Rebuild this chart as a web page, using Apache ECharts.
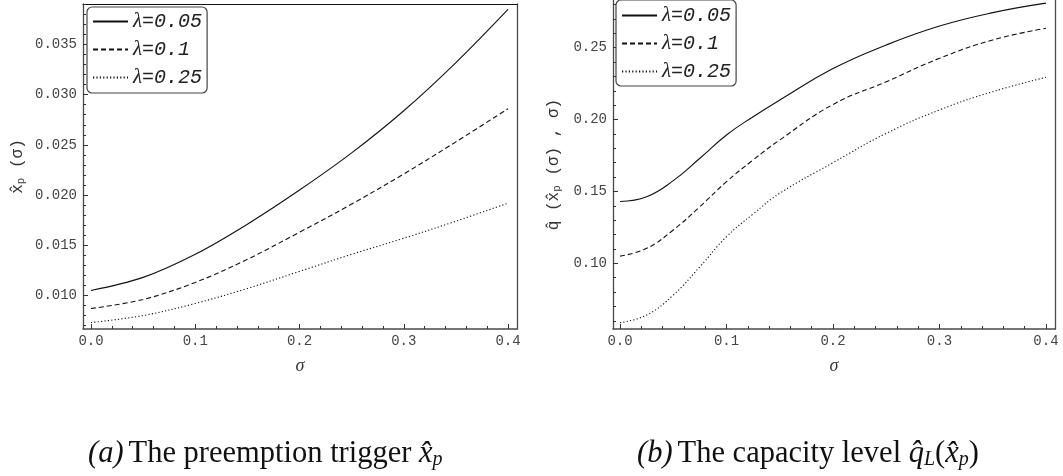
<!DOCTYPE html>
<html><head><meta charset="utf-8">
<script src="https://cdn.jsdelivr.net/npm/echarts@6/dist/echarts.min.js"></script>
<style>html,body{margin:0;padding:0;background:#fff}#c{width:1063px;height:476px}</style>
</head><body><div id="c"></div>
<script>
// ---------- data ----------
const seriesNames = ['λ=0.05', 'λ=0.1', 'λ=0.25'];
const sigmaA = [0, 0.05, 0.1, 0.15, 0.2, 0.25, 0.3, 0.35, 0.4];
const xpLam005 = [0.0105, 0.0118, 0.0141, 0.0171, 0.0205, 0.0242, 0.0284, 0.0332, 0.0385];
const xpLam010 = [0.0087, 0.0096, 0.0113, 0.0136, 0.0163, 0.0191, 0.0221, 0.0253, 0.0286];
const xpLam025 = [0.0073, 0.0080, 0.0092, 0.0107, 0.0124, 0.0141, 0.0157, 0.0174, 0.0192];
const sigmaB = [0, 0.025, 0.05, 0.075, 0.1, 0.125, 0.15, 0.2, 0.25, 0.3, 0.35, 0.4];
const qLam005 = [0.143, 0.1463, 0.1575, 0.1731, 0.1893, 0.2020, 0.2136, 0.2355, 0.2519, 0.2651, 0.2744, 0.2810];
const qLam010 = [0.105, 0.1104, 0.1232, 0.1394, 0.1568, 0.1719, 0.1858, 0.2105, 0.2263, 0.2426, 0.2554, 0.2635];
const qLam025 = [0.0587, 0.0640, 0.0779, 0.0976, 0.1185, 0.1343, 0.1487, 0.1700, 0.1904, 0.2067, 0.2194, 0.2294];
const xTicks = [0, 0.1, 0.2, 0.3, 0.4];
const yTicksA = [0.010, 0.015, 0.020, 0.025, 0.030, 0.035];
const yTicksB = [0.10, 0.15, 0.20, 0.25];
const captionA = 'The preemption trigger ';
const captionB = 'The capacity level ';

// ---------- helpers ----------
function minorVals(lo, hi, step, majorStep) {
  const out = [];
  for (let i = Math.ceil(lo / step - 1e-9); i * step <= hi + 1e-12; i++) {
    const v = +(i * step).toFixed(6);
    if (Math.abs(v / majorStep - Math.round(v / majorStep)) > 1e-6) out.push(v);
  }
  return out;
}
const MONO = '"Liberation Mono", "DejaVu Sans Mono", monospace';
const SERIF = '"Liberation Serif", "DejaVu Serif", serif';
const frameCol = '#4a4a4a';
const lblStyle = { fontFamily: MONO, fontSize: 14, color: '#444' };

function xAxesFor(gi, min, max, showTop) {
  const base = { gridIndex: gi, type: 'value', min, max, splitLine: { show: false } };
  const arr = [
    Object.assign({}, base, {
      position: 'bottom',
      axisLine: { show: true, onZero: false, lineStyle: { color: frameCol, width: 1.6 } },
      axisTick: { show: true, inside: true, length: 5, customValues: xTicks, lineStyle: { color: '#333' } },
      axisLabel: Object.assign({ customValues: xTicks, formatter: v => v.toFixed(1), margin: 5 }, lblStyle),
      name: 'σ', nameLocation: 'middle', nameGap: 28,
      nameTextStyle: { fontFamily: SERIF, fontStyle: 'italic', fontSize: 18, color: '#333' }
    }),
    Object.assign({}, base, {
      position: 'bottom',
      axisLine: { show: false, onZero: false },
      axisTick: { show: true, inside: true, length: 3, customValues: minorVals(0, 0.4, 0.02, 0.1), lineStyle: { color: '#333' } },
      axisLabel: { show: false }
    })
  ];
  if (showTop) arr.push(Object.assign({}, base, {
    position: 'top',
    axisLine: { show: true, onZero: false, lineStyle: { color: '#111', width: 1.2 } },
    axisTick: { show: false }, axisLabel: { show: false }
  }));
  return arr;
}
function yAxesFor(gi, min, max, major, minorStep, majorStep, dec, nameRich, nameGap) {
  const base = { gridIndex: gi, type: 'value', min, max, splitLine: { show: false } };
  return [
    Object.assign({}, base, {
      position: 'left',
      axisLine: { show: true, onZero: false, lineStyle: { color: frameCol, width: 1.3 } },
      axisTick: { show: true, inside: true, length: 5, customValues: major, lineStyle: { color: '#333' } },
      axisLabel: Object.assign({ customValues: major, formatter: v => v.toFixed(dec), margin: 6 }, lblStyle),
      name: nameRich, nameLocation: 'middle', nameRotate: 90, nameGap: nameGap,
      nameTextStyle: {
        fontFamily: MONO, fontSize: 16, color: '#333',
        rich: {
          n: { fontFamily: MONO, fontSize: 16, color: '#333' },
          s: { fontFamily: MONO, fontSize: 11, color: '#333', verticalAlign: 'bottom', padding: [8, 0, 0, 0] }
        }
      }
    }),
    Object.assign({}, base, {
      position: 'left',
      axisLine: { show: false, onZero: false },
      axisTick: { show: true, inside: true, length: 3, customValues: minorVals(min, max, minorStep, majorStep), lineStyle: { color: '#333' } },
      axisLabel: { show: false }
    }),
    Object.assign({}, base, {
      position: 'right',
      axisLine: { show: true, onZero: false, lineStyle: { color: frameCol, width: 1.3 } },
      axisTick: { show: false }, axisLabel: { show: false }
    })
  ];
}
function pairs(xs, ys) { return xs.map((x, i) => [x, ys[i]]); }
const styles = [
  { type: 'solid', width: 1.1 },
  { type: [5, 3], width: 1.1 },
  { type: [1.2, 2.2], width: 1.1 }
];
function mkSeries(name, xi, yi, xs, ys, k, sm) {
  return {
    type: 'line', name, xAxisIndex: xi, yAxisIndex: yi, data: pairs(xs, ys),
    showSymbol: false, symbol: 'none', smooth: sm, animation: false,
    lineStyle: Object.assign({ color: '#111' }, styles[k]), itemStyle: { color: '#111' }
  };
}
function legendFor(left, top, padding) {
  return {
    data: seriesNames.map(n => ({ name: n, itemStyle: { opacity: 0 } })),
    orient: 'vertical', left, top, padding,
    itemWidth: 35, itemHeight: 14, itemGap: 7, selectedMode: false,
    itemStyle: { opacity: 0, borderWidth: 0 },
    borderColor: '#444', borderWidth: 1.2, borderRadius: 5, backgroundColor: '#fff',
    formatter: n => '{l|λ}{m|' + n.slice(1) + '}',
    textStyle: {
      lineHeight: 20,
      rich: {
        l: { fontFamily: SERIF, fontStyle: 'italic', fontSize: 21, color: '#222' },
        m: { fontFamily: MONO, fontStyle: 'italic', fontSize: 20, color: '#222' }
      }
    }
  };
}

// ranges (frame padding as in the original)
const xMin = -0.0077, xMaxA = 0.4086, xMinB = -0.0066, xMaxB = 0.4085;
const yMinA = 0.00666, yMaxA = 0.03903, yMinB = 0.05429, yMaxB = 0.28319;

const xAxis = [...xAxesFor(0, xMin, xMaxA, true), ...xAxesFor(1, xMinB, xMaxB, false)];
const yAxis = [
  ...yAxesFor(0, yMinA, yMaxA, yTicksA, 0.001, 0.005, 3, '{n|x̂}{s|p}{n| (σ)}', 56),
  ...yAxesFor(1, yMinB, yMaxB, yTicksB, 0.01, 0.05, 2, '{n|q̂ (x̂}{s|p}{n| (σ) , σ)}', 50)
];
const series = [
  mkSeries(seriesNames[0], 0, 0, sigmaA, xpLam005, 0, 0.35),
  mkSeries(seriesNames[1], 0, 0, sigmaA, xpLam010, 1, 0.35),
  mkSeries(seriesNames[2], 0, 0, sigmaA, xpLam025, 2, 0.35),
  mkSeries(seriesNames[0], 3, 3, sigmaB, qLam005, 0, 0.45),
  mkSeries(seriesNames[1], 3, 3, sigmaB, qLam010, 1, 0.45),
  mkSeries(seriesNames[2], 3, 3, sigmaB, qLam025, 2, 0.45)
];
const CF = 30.5;
const capRich = {
  i: { fontFamily: SERIF, fontStyle: 'italic', fontWeight: 'normal', fontSize: CF, color: '#111' },
  r: { fontFamily: SERIF, fontWeight: 'normal', fontSize: CF, color: '#111' },
  m: { fontFamily: SERIF, fontStyle: 'italic', fontWeight: 'normal', fontSize: CF, color: '#111' },
  s: { fontFamily: SERIF, fontStyle: 'italic', fontWeight: 'normal', fontSize: 20, color: '#111', padding: [13, 0, 0, 0] }
};
const chart = echarts.init(document.getElementById('c'), null, { renderer: 'canvas' });
chart.setOption({
  animation: false,
  backgroundColor: '#fff',
  grid: [
    { left: 83, top: 4, width: 434, height: 325, outerBoundsMode: 'none' },
    { left: 613, top: 0, width: 442, height: 329, outerBoundsMode: 'none' }
  ],
  xAxis, yAxis, series,
  legend: [legendFor(87, 7, [4, 5, 5, 5]), legendFor(616, 0, [5, 5, 4, 5])],
  title: [
    { text: '{i|(a)} {r|' + captionA + '}{m|x̂}{s|p}', left: 88, top: 437, padding: 0, textStyle: { fontWeight: 'normal', rich: capRich } },
    { text: '{i|(b)} {r|' + captionB + '}{m|q̂}{s|L}{r|(}{m|x̂}{s|p}{r|)}', left: 637, top: 437, padding: 0, textStyle: { fontWeight: 'normal', rich: capRich } }
  ]
});
</script></body></html>
